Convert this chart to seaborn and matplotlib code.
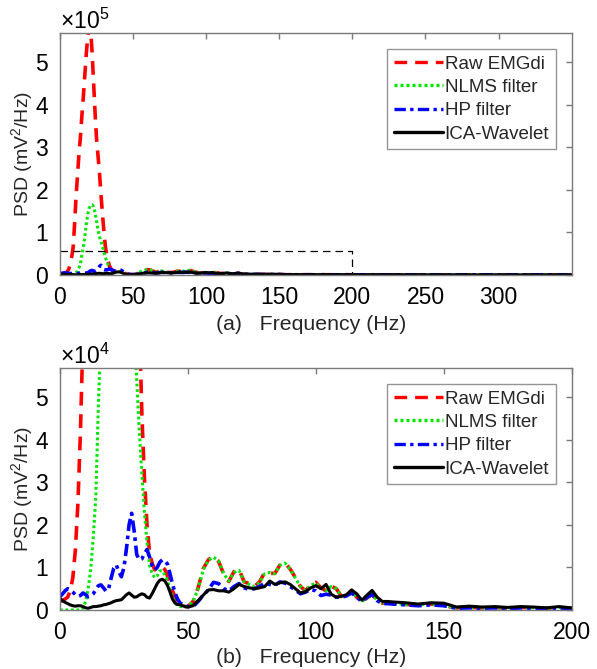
import numpy as np
import pandas as pd
import matplotlib
matplotlib.use("Agg")
import matplotlib.pyplot as plt
from matplotlib.ticker import ScalarFormatter
import seaborn as sns

sns.set_theme(style="white")
plt.rcParams['font.family'] = ['Liberation Sans', 'DejaVu Sans']
plt.rcParams['mathtext.fontset'] = 'custom'
plt.rcParams['mathtext.rm'] = 'Liberation Sans'
plt.rcParams['mathtext.it'] = 'Liberation Sans'

# Frequency grid (Hz)
freq = (list(range(0, 51))
        + list(range(52, 131, 2))
        + list(range(135, 201, 5))
        + list(range(210, 351, 10)))

# PSD values in units of 1e4 mV^2/Hz
raw_emgdi = [
    0.2, 0.22, 0.26, 0.3, 0.45, 0.75, 1.4, 2.5, 4.2, 6.5,
    12.0, 18.5, 23.5, 28.5, 32.5, 37.5, 42.0, 47.0, 52.0, 56.0,
    58.5, 57.5, 52.0, 45.0, 38.0, 32.0, 28.0, 24.0, 19.0, 14.5,
    10.5, 6.8, 4.6, 3.1, 2.0, 1.35, 1.1, 0.95, 0.92, 0.97,
    1.0, 0.95, 0.8, 0.65, 0.45, 0.3, 0.2, 0.12, 0.1, 0.08, 0.08,
    # 52..130 step 2
    0.2, 0.52, 0.97, 1.18, 1.25, 1.14, 0.84, 0.67, 0.9, 0.95,
    0.66, 0.62, 0.55, 0.66, 0.88, 0.86, 0.86, 1.06, 1.1, 0.96,
    0.76, 0.55, 0.45, 0.6, 0.65, 0.52, 0.45, 0.56, 0.5, 0.32,
    0.35, 0.46, 0.3, 0.2, 0.28, 0.38, 0.22, 0.16, 0.16, 0.15,
    # 135..200 step 5
    0.13, 0.12, 0.14, 0.1, 0.05, 0.06, 0.05, 0.06, 0.04, 0.06, 0.05, 0.04, 0.06, 0.04,
    # 210..350 step 10
    0.03, 0.03, 0.03, 0.03, 0.02, 0.02, 0.02, 0.02, 0.02, 0.02, 0.02, 0.02, 0.02, 0.02, 0.02,
]

nlms_filter = [
    0.0, 0.0, 0.0, 0.0, 0.0, 0.0, 0.0, 0.0, 0.0, 0.05,
    0.2, 0.5, 0.94, 1.7, 2.66, 4.8, 6.5, 9.0, 12.0, 14.3,
    15.7, 16.4, 16.5, 16.0, 14.6, 12.6, 10.6, 9.0, 7.9, 6.8,
    5.4, 4.2, 3.2, 2.3, 1.6, 1.05, 0.86, 0.76, 0.8, 0.92,
    0.92, 0.82, 0.7, 0.48, 0.3, 0.17, 0.1, 0.08, 0.08, 0.08, 0.08,
    # 52..130 step 2
    0.2, 0.5, 0.95, 1.17, 1.24, 1.15, 0.85, 0.68, 0.88, 0.93,
    0.66, 0.6, 0.55, 0.64, 0.85, 0.88, 0.85, 1.05, 1.1, 0.95,
    0.75, 0.55, 0.45, 0.58, 0.63, 0.52, 0.45, 0.55, 0.5, 0.32,
    0.35, 0.45, 0.3, 0.2, 0.28, 0.38, 0.22, 0.16, 0.16, 0.15,
    # 135..200 step 5
    0.13, 0.12, 0.14, 0.1, 0.05, 0.06, 0.05, 0.06, 0.04, 0.06, 0.05, 0.04, 0.06, 0.04,
    # 210..350 step 10
    0.03, 0.03, 0.03, 0.03, 0.02, 0.02, 0.02, 0.02, 0.02, 0.02, 0.02, 0.02, 0.02, 0.02, 0.02,
]

hp_filter = [
    0.31, 0.38, 0.45, 0.5, 0.47, 0.42, 0.36, 0.32, 0.34, 0.4,
    0.36, 0.31, 0.33, 0.38, 0.48, 0.57, 0.59, 0.52, 0.44, 0.5,
    0.75, 0.98, 1.06, 0.9, 0.78, 1.0, 1.45, 2.0, 2.27, 1.85,
    1.3, 1.18, 1.2, 1.32, 1.42, 1.25, 1.05, 0.94, 1.0, 1.12,
    1.18, 1.15, 1.08, 0.85, 0.6, 0.4, 0.25, 0.16, 0.12, 0.1, 0.08,
    # 52..130 step 2
    0.08, 0.2, 0.35, 0.47, 0.65, 0.62, 0.5, 0.45, 0.55, 0.62,
    0.52, 0.48, 0.5, 0.55, 0.63, 0.6, 0.58, 0.66, 0.63, 0.55,
    0.47, 0.38, 0.42, 0.48, 0.45, 0.34, 0.37, 0.35, 0.3, 0.3,
    0.33, 0.4, 0.3, 0.2, 0.3, 0.36, 0.22, 0.15, 0.15, 0.14,
    # 135..200 step 5
    0.12, 0.1, 0.12, 0.1, 0.04, 0.05, 0.04, 0.05, 0.03, 0.05, 0.04, 0.03, 0.05, 0.03,
    # 210..350 step 10
    0.03, 0.03, 0.02, 0.02, 0.02, 0.02, 0.02, 0.02, 0.02, 0.02, 0.02, 0.02, 0.02, 0.02, 0.02,
]

ica_wavelet = [
    0.27, 0.22, 0.18, 0.15, 0.12, 0.1, 0.09, 0.1, 0.1, 0.08,
    0.05, 0.04, 0.06, 0.08, 0.08, 0.09, 0.1, 0.12, 0.13, 0.15,
    0.17, 0.2, 0.22, 0.23, 0.24, 0.3, 0.36, 0.4, 0.35, 0.3,
    0.31, 0.35, 0.38, 0.36, 0.3, 0.28, 0.38, 0.5, 0.62, 0.7,
    0.72, 0.68, 0.58, 0.42, 0.25, 0.16, 0.13, 0.12, 0.1, 0.08, 0.07,
    # 52..130 step 2
    0.1, 0.22, 0.35, 0.47, 0.48, 0.45, 0.45, 0.42, 0.5, 0.6,
    0.55, 0.52, 0.5, 0.52, 0.55, 0.68, 0.6, 0.64, 0.66, 0.6,
    0.5, 0.4, 0.43, 0.52, 0.57, 0.5, 0.6, 0.37, 0.3, 0.32,
    0.36, 0.47, 0.38, 0.23, 0.35, 0.46, 0.3, 0.2, 0.2, 0.19,
    # 135..200 step 5
    0.17, 0.14, 0.17, 0.16, 0.07, 0.09, 0.07, 0.08, 0.06, 0.08, 0.07, 0.05, 0.08, 0.05,
    # 210..350 step 10
    0.05, 0.04, 0.05, 0.04, 0.04, 0.03, 0.04, 0.03, 0.03, 0.03, 0.02, 0.03, 0.02, 0.02, 0.02,
]

series_names = ["Raw EMGdi", "NLMS filter", "HP filter", "ICA-Wavelet"]
series_vals = [raw_emgdi, nlms_filter, hp_filter, ica_wavelet]
colors = ["#ff0000", "#00e600", "#0000ff", "#000000"]
styles = [(0, (3.8, 2.4)), (0, (0.9, 0.9)), (0, (3.4, 1.3, 1.0, 1.3)), "-"]
widths = [2.6, 2.2, 2.6, 2.2]
y_tick_units = [0, 1, 2, 3, 4, 5]

frames = []
for name, vals in zip(series_names, series_vals):
    frames.append(pd.DataFrame({"freq": freq, "psd": np.array(vals) * 1e4, "method": name}))
df = pd.concat(frames, ignore_index=True)

fig = plt.figure(figsize=(5.97, 6.69), dpi=100)
ax_a = fig.add_axes([0.1005, 0.589, 0.857, 0.3617])
ax_b = fig.add_axes([0.1005, 0.0882, 0.857, 0.3617])

edge = "#7a7a7a"
panels = [(ax_a, 350, 5.68e5, 1e5, "(a)", -0.165), (ax_b, 200, 5.68e4, 1e4, "(b)", -0.155)]
for ax, xmax, ymax, scale, letter, xly in panels:
    for name, c, ls, lw in zip(series_names, colors, styles, widths):
        sub = df[df["method"] == name]
        sns.lineplot(data=sub, x="freq", y="psd", ax=ax, color=c, linestyle=ls,
                     linewidth=lw, label=name, errorbar=None, sort=True)
    ax.set_xlim(0, xmax)
    ax.set_ylim(0, ymax)
    ax.set_xticks(list(range(0, xmax + 1 if xmax == 200 else 301, 50)))
    ax.set_yticks([t * scale for t in y_tick_units])
    fmt = ScalarFormatter(useMathText=True)
    fmt.set_powerlimits((0, 0))
    ax.yaxis.set_major_formatter(fmt)
    ax.yaxis.get_offset_text().set_fontsize(16.5)
    ax.yaxis.get_offset_text().set_x(0.0)
    ax.tick_params(axis="both", which="both", direction="in", length=4, width=1,
                   color=edge, labelsize=16.5, labelcolor="black",
                   top=True, right=True, pad=8)
    for sp in ax.spines.values():
        sp.set_color(edge)
        sp.set_linewidth(1.0)
    ax.set_ylabel("PSD (mV$^2$/Hz)", fontsize=14)
    ax.yaxis.set_label_coords(-0.048, 0.5)
    ax.set_xlabel(letter + "   Frequency (Hz)", fontsize=15.3)
    ax.xaxis.set_label_coords(0.49, xly)
    leg = ax.legend(loc="upper right", fontsize=13.5, frameon=True, fancybox=False,
                    handlelength=2.6, handletextpad=0.1, borderpad=0.35,
                    labelspacing=0.33, borderaxespad=0.85)
    leg.get_frame().set_edgecolor(edge)
    leg.get_frame().set_linewidth(1.0)
    for h in leg.get_lines():
        h.set_linewidth(2.4)

# zoom-region rectangle on panel (a)
ax_a.plot([0, 200, 200], [0.57e5, 0.57e5, 0], color="black", linestyle=(0, (6, 4)),
          linewidth=0.9)

fig.savefig("out.png", dpi=100)
